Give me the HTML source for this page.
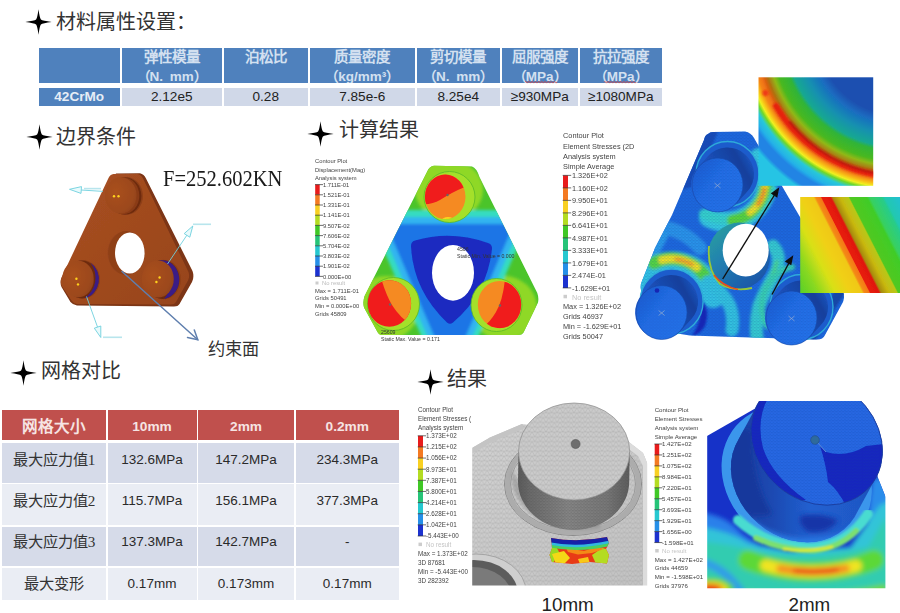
<!DOCTYPE html>
<html lang="zh-CN">
<head>
<meta charset="utf-8">
<title>slide</title>
<style>
html,body{margin:0;padding:0;background:#fff;}
html{width:900px;height:613px;overflow:hidden;}
body{width:900px;height:613px;position:relative;overflow:hidden;font-family:"Liberation Sans",sans-serif;color:#222;}
.abs{position:absolute;}
.h{position:absolute;font-family:"Liberation Serif",serif;font-weight:300;font-size:20px;line-height:24px;color:#333;white-space:nowrap;letter-spacing:0;}
.star{position:absolute;width:27px;height:26px;}
.c{position:absolute;box-sizing:border-box;text-align:center;white-space:nowrap;overflow:hidden;}
.t1h{background:#4f81bd;color:#d3e0f0;font-family:"Liberation Serif",serif;font-weight:bold;font-size:14.5px;line-height:18.5px;top:47.5px;height:35px;padding-top:0.5px;}
.t1h .s{font-family:"Liberation Sans",sans-serif;font-size:13.5px;}
.t1d{background:#d0d8e8;color:#222;font-size:13.6px;line-height:17.5px;top:88px;height:17.5px;}
.t2h{background:#c0504d;color:#f6e4e3;font-weight:bold;font-size:13.7px;line-height:34px;top:409.5px;height:30.5px;}
.t2c{color:#2a2a2a;font-size:13.5px;}
.r1{top:443px;height:39.5px;line-height:34px;background:#d6dbe9;}
.r2{top:484px;height:41px;line-height:34px;background:#eaedf4;}
.r3{top:526.5px;height:39.5px;line-height:30px;background:#d6dbe9;}
.r4{top:567.5px;height:32.5px;line-height:31px;background:#eaedf4;}
.k{font-family:"Liberation Serif",serif;font-weight:300;font-size:15.2px;color:#333;}
.lbl{position:absolute;font-size:19px;color:#222;white-space:nowrap;}
</style>
</head>
<body>
<!-- headings -->
<svg class="star" style="left:25px;top:9px" viewBox="-13.5 -13 27 26"><path d="M0,-12.7 Q1.1,-4.2 2.4,-2.4 Q4.2,-1.1 13.2,0 Q4.2,1.1 2.4,2.4 Q1.1,4.2 0,12.7 Q-1.1,4.2 -2.4,2.4 Q-4.2,1.1 -13.2,0 Q-4.2,-1.1 -2.4,-2.4 Q-1.1,-4.2 0,-12.7 Z" fill="#000"/></svg>
<div class="h" style="left:56px;top:10px">材料属性设置：</div>
<svg class="star" style="left:26px;top:124px" viewBox="-13.5 -13 27 26"><path d="M0,-12.7 Q1.1,-4.2 2.4,-2.4 Q4.2,-1.1 13.2,0 Q4.2,1.1 2.4,2.4 Q1.1,4.2 0,12.7 Q-1.1,4.2 -2.4,2.4 Q-4.2,1.1 -13.2,0 Q-4.2,-1.1 -2.4,-2.4 Q-1.1,-4.2 0,-12.7 Z" fill="#000"/></svg>
<div class="h" style="left:56px;top:125px">边界条件</div>
<svg class="star" style="left:307px;top:120.500px" viewBox="-13.5 -13 27 26"><path d="M0,-12.7 Q1.1,-4.2 2.4,-2.4 Q4.2,-1.1 13.2,0 Q4.2,1.1 2.4,2.4 Q1.1,4.2 0,12.7 Q-1.1,4.2 -2.4,2.4 Q-4.2,1.1 -13.2,0 Q-4.2,-1.1 -2.4,-2.4 Q-1.1,-4.2 0,-12.7 Z" fill="#000"/></svg>
<div class="h" style="left:339px;top:117.500px">计算结果</div>
<svg class="star" style="left:10px;top:359.500px" viewBox="-13.5 -13 27 26"><path d="M0,-12.7 Q1.1,-4.2 2.4,-2.4 Q4.2,-1.1 13.2,0 Q4.2,1.1 2.4,2.4 Q1.1,4.2 0,12.7 Q-1.1,4.2 -2.4,2.4 Q-4.2,1.1 -13.2,0 Q-4.2,-1.1 -2.4,-2.4 Q-1.1,-4.2 0,-12.7 Z" fill="#000"/></svg>
<div class="h" style="left:41px;top:358.500px">网格对比</div>
<svg class="star" style="left:416.500px;top:368.500px" viewBox="-13.5 -13 27 26"><path d="M0,-12.7 Q1.1,-4.2 2.4,-2.4 Q4.2,-1.1 13.2,0 Q4.2,1.1 2.4,2.4 Q1.1,4.2 0,12.7 Q-1.1,4.2 -2.4,2.4 Q-4.2,1.1 -13.2,0 Q-4.2,-1.1 -2.4,-2.4 Q-1.1,-4.2 0,-12.7 Z" fill="#000"/></svg>
<div class="h" style="left:447px;top:366.500px">结果</div>

<!-- table 1 -->
<div class="c t1h" style="left:38.500px;width:81.500px"></div>
<div class="c t1h" style="left:121.500px;width:100.500px">弹性模量<br><span class="s">（N.&ensp;mm）</span></div>
<div class="c t1h" style="left:223.500px;width:84.500px">泊松比</div>
<div class="c t1h" style="left:309.500px;width:105.500px">质量密度<br><span class="s">（kg/mm³）</span></div>
<div class="c t1h" style="left:416.500px;width:83.500px">剪切模量<br><span class="s">（N.&ensp;mm）</span></div>
<div class="c t1h" style="left:501.500px;width:76.500px">屈服强度<br><span class="s">（MPa）</span></div>
<div class="c t1h" style="left:579.500px;width:82.500px">抗拉强度<br><span class="s">（MPa）</span></div>
<div class="c t1d" style="left:38.500px;width:81.500px;background:#4f81bd;color:#e6edf6;font-weight:bold;">42CrMo</div>
<div class="c t1d" style="left:121.500px;width:100.500px">2.12e5</div>
<div class="c t1d" style="left:223.500px;width:84.500px">0.28</div>
<div class="c t1d" style="left:309.500px;width:105.500px">7.85e-6</div>
<div class="c t1d" style="left:416.500px;width:83.500px">8.25e4</div>
<div class="c t1d" style="left:501.500px;width:76.500px">≥930MPa</div>
<div class="c t1d" style="left:579.500px;width:82.500px">≥1080MPa</div>

<svg class="abs" style="left:0;top:0" width="900" height="613" viewBox="0 0 900 613"><path d="M525,82.2 q0.80,-1.80 1.60,0 q0.80,1.80 1.60,0 q0.80,-1.80 1.60,0 q0.80,1.80 1.60,0 q0.80,-1.80 1.60,0 q0.80,1.80 1.60,0 q0.80,-1.80 1.60,0 q0.80,1.80 1.60,0 q0.80,-1.80 1.60,0 q0.80,1.80 1.60,0 q0.80,-1.80 1.60,0 q0.80,1.80 1.60,0 q0.80,-1.80 1.60,0 q0.80,1.80 1.60,0 q0.80,-1.80 1.60,0 q0.80,1.80 1.60,0 q0.80,-1.80 1.60,0 q0.80,1.80 1.60,0 q0.80,-1.80 1.60,0 q0.80,1.80 1.60,0" fill="none" stroke="#e0403c" stroke-width="0.8"/><path d="M604,82.2 q0.80,-1.80 1.60,0 q0.80,1.80 1.60,0 q0.80,-1.80 1.60,0 q0.80,1.80 1.60,0 q0.80,-1.80 1.60,0 q0.80,1.80 1.60,0 q0.80,-1.80 1.60,0 q0.80,1.80 1.60,0 q0.80,-1.80 1.60,0 q0.80,1.80 1.60,0 q0.80,-1.80 1.60,0 q0.80,1.80 1.60,0 q0.80,-1.80 1.60,0 q0.80,1.80 1.60,0 q0.80,-1.80 1.60,0 q0.80,1.80 1.60,0 q0.80,-1.80 1.60,0 q0.80,1.80 1.60,0 q0.80,-1.80 1.60,0 q0.80,1.80 1.60,0" fill="none" stroke="#e0403c" stroke-width="0.8"/></svg>
<!-- table 2 -->
<div class="c t2h" style="left:2px;width:104px;font-family:'Liberation Serif',serif;font-size:15.5px;">网格大小</div>
<div class="c t2h" style="left:107.500px;width:89px">10mm</div>
<div class="c t2h" style="left:198px;width:96px">2mm</div>
<div class="c t2h" style="left:295.500px;width:103.500px">0.2mm</div>

<div class="c t2c r1 k" style="left:2px;width:104px">最大应力值1</div>
<div class="c t2c r1" style="left:107.500px;width:89px">132.6MPa</div>
<div class="c t2c r1" style="left:198px;width:96px">147.2MPa</div>
<div class="c t2c r1" style="left:295.500px;width:103.500px">234.3MPa</div>

<div class="c t2c r2 k" style="left:2px;width:104px">最大应力值2</div>
<div class="c t2c r2" style="left:107.500px;width:89px">115.7MPa</div>
<div class="c t2c r2" style="left:198px;width:96px">156.1MPa</div>
<div class="c t2c r2" style="left:295.500px;width:103.500px">377.3MPa</div>

<div class="c t2c r3 k" style="left:2px;width:104px">最大应力值3</div>
<div class="c t2c r3" style="left:107.500px;width:89px">137.3MPa</div>
<div class="c t2c r3" style="left:198px;width:96px">142.7MPa</div>
<div class="c t2c r3" style="left:295.500px;width:103.500px">-</div>

<div class="c t2c r4 k" style="left:2px;width:104px">最大变形</div>
<div class="c t2c r4" style="left:107.500px;width:89px">0.17mm</div>
<div class="c t2c r4" style="left:198px;width:96px">0.173mm</div>
<div class="c t2c r4" style="left:295.500px;width:103.500px">0.17mm</div>

<!-- IMG1: boundary condition plate -->
<svg class="abs" style="left:0;top:0" width="900" height="613" viewBox="0 0 900 613">
<defs>
<linearGradient id="g1face" x1="0" y1="0" x2="1" y2="1">
<stop offset="0" stop-color="#a85022"/><stop offset="0.5" stop-color="#a04a1e"/><stop offset="1" stop-color="#97441a"/>
</linearGradient>
<radialGradient id="g1boss" cx="0.35" cy="0.4" r="0.8">
<stop offset="0" stop-color="#a9501f"/><stop offset="0.7" stop-color="#9c481c"/><stop offset="1" stop-color="#8a3d17"/>
</radialGradient>
<filter id="b04"><feGaussianBlur stdDeviation="0.45"/></filter>
<filter id="b1"><feGaussianBlur stdDeviation="1"/></filter>
</defs>
<g filter="url(#b04)">
<!-- side/thickness (darker) -->
<path d="M116,173.500 L140,173.200 Q144,174 146,178.500 L192.500,271 Q194.500,277 192,282 L179.500,304 Q178,306.500 174,306.500 L77,305.500 Q73,305 70.500,302 L61.500,287 Q60,284 61,279 Z" fill="#7c3413"/>
<!-- front face -->
<path d="M113.500,174 L137.500,174 Q141,174.500 143,178.500 L188.500,272 Q190,276.500 188,280.500 L176,302 Q174.500,304.500 171,304.500 L77,304 Q73.500,303.500 71.500,300.500 L61.500,285.500 Q60,282 61.500,277.500 L108.500,178 Q110,174.500 113.500,174 Z" fill="url(#g1face)"/>
<!-- hole: wall then white -->
<ellipse cx="126.500" cy="253" rx="18.300" ry="22" fill="#8a3c16"/>
<ellipse cx="124.500" cy="253" rx="17" ry="21.500" fill="#93421a" opacity="0.6"/>
<ellipse cx="129.800" cy="253" rx="14.800" ry="20.500" fill="#fff"/>
<!-- top boss -->
<ellipse cx="126" cy="196" rx="17" ry="19" fill="#8e3f18"/>
<ellipse cx="125" cy="196" rx="16.500" ry="18.600" fill="#6e2c0f"/>
<ellipse cx="123.300" cy="195.800" rx="16" ry="18.400" fill="#8a3b15"/>
<ellipse cx="120.800" cy="195.500" rx="15.800" ry="18.200" fill="url(#g1boss)"/>
<!-- left boss -->
<ellipse cx="83" cy="279.500" rx="17" ry="19.300" fill="#8e3f18"/>
<ellipse cx="82" cy="279.500" rx="16.600" ry="18.900" fill="#6e2c0f"/>
<path d="M90.500,262.800 A17,19 0 0 1 84.500,298 A21,23 0 0 0 90.500,262.800Z" fill="#3b1c86"/>
<ellipse cx="78" cy="279" rx="15.800" ry="18.300" fill="url(#g1boss)"/>
<!-- right boss -->
<ellipse cx="163.500" cy="279.500" rx="17.500" ry="19.800" fill="#8e3f18"/>
<ellipse cx="162.500" cy="279.500" rx="17" ry="19.400" fill="#6e2c0f"/>
<path d="M159.500,260.300 A17.500,19.500 0 0 1 164,299 A19.500,24 0 0 0 159.500,260.300Z" fill="#3b1c86"/>
<ellipse cx="157.800" cy="279" rx="16" ry="18.600" fill="url(#g1boss)"/>
<!-- yellow dots -->
<g fill="#ffd21e"><circle cx="114" cy="196.300" r="1.200"/><circle cx="118.500" cy="196.300" r="1.200"/>
<circle cx="76.400" cy="278.800" r="1.200"/><circle cx="78" cy="284.400" r="1.200"/>
<circle cx="159.600" cy="277.500" r="1.200"/><circle cx="156.400" cy="282" r="1.200"/></g>
<!-- cyan arrows -->
<g stroke="#6fd0de" stroke-width="0.9" fill="#e8fafc" stroke-linejoin="round">
<path d="M103,191.400 L81,190" fill="none"/><path d="M81.500,186.600 L69.500,189.300 L81,193.400Z"/>
<path d="M167.500,264 L187,235" fill="none"/><path d="M184.200,233.600 L192.800,226 L189.800,237.200Z"/>
<path d="M86.500,296.500 L97.500,327" fill="none"/><path d="M94.300,328.200 L100.800,337.500 L100.800,326Z"/>
</g>
<g fill="#9adbe6" opacity="0.7"><rect x="84" y="187.800" width="17" height="1.600"/><rect x="193" y="223.500" width="18" height="1.600"/><rect x="103" y="336.500" width="19" height="1.600"/></g>
<!-- annotation arrow -->
<g stroke="#5f7fae" stroke-width="1.500" fill="none" stroke-linecap="round"><path d="M122,271.500 L197.500,339.500"/><path d="M187.500,337.500 L197.800,339.700 L194.300,330"/></g>
</g>
</svg>

<!-- IMG2: displacement contour -->
<svg class="abs" style="left:0;top:0" width="900" height="613" viewBox="0 0 900 613">
<defs>
<clipPath id="c2plate"><path d="M434,165.800 L472,166.600 Q476.500,168 479.300,176.700 L537.300,293 Q539,298 538,302.500 L523.500,332.500 Q522,335 518,335 L382,335 Q379,335 377.500,332 L364,307.500 Q362.500,302 364.600,296 L427,172 Q429.500,166 434,165.800 Z"/></clipPath>
<filter id="b2a"><feGaussianBlur stdDeviation="1.6"/></filter>
<filter id="b2b"><feGaussianBlur stdDeviation="0.5"/></filter>
<clipPath id="c2t"><ellipse cx="445.200" cy="196.800" rx="20.300" ry="22.300"/></clipPath>
<clipPath id="c2l"><ellipse cx="389.400" cy="303.500" rx="21.700" ry="23.200"/></clipPath>
<clipPath id="c2r"><ellipse cx="499.500" cy="304.600" rx="21.700" ry="23.600"/></clipPath>
</defs>
<g filter="url(#b2b)">
<g clip-path="url(#c2plate)">
<rect x="355" y="160" width="190" height="180" fill="#4cc42c"/>
<g filter="url(#b2a)">
<!-- corner lime -->
<ellipse cx="449" cy="190" rx="34" ry="30" fill="#8fd828"/>
<ellipse cx="386" cy="308" rx="33" ry="32" fill="#8fd828"/>
<ellipse cx="504" cy="308" rx="33" ry="32" fill="#8fd828"/>
<!-- cyan triangle -->
<path d="M366,210 L534,210 L470,356 L430,356 Z" fill="#34dcc0"/>
<path d="M376,217 L524,217 L465,354 L435,354 Z" fill="#30b4f0"/>
<path d="M386,224 L514,224 L459,352 L441,352 Z" fill="#1f74e6"/>
<!-- green re-cover near bosses -->
</g>
<path d="M415,240.500 Q451,230 488,243 Q492.500,244.500 492,249 Q487,294 453,322.500 Q450,325 447,322.500 Q413,290 411,246 Q411,241.500 415,240.500Z" fill="#1a2cc0" filter="url(#b2b)"/>
</g>
<!-- hole -->
<ellipse cx="453" cy="272.800" rx="21" ry="27.900" fill="#fff"/>
<!-- boss rings -->
<ellipse cx="449.500" cy="197" rx="25.500" ry="25.500" fill="#a4e02c" stroke="#58b828" stroke-width="0.8"/>
<ellipse cx="393.500" cy="304" rx="26" ry="26.500" fill="#a4e02c" stroke="#58b828" stroke-width="0.8"/>
<ellipse cx="496.500" cy="305" rx="25.500" ry="26.500" fill="#a4e02c" stroke="#58b828" stroke-width="0.8"/>
<!-- top boss face -->
<g clip-path="url(#c2t)"><rect x="420" y="170" width="55" height="55" fill="#f58a22"/>
<path d="M420,170 H475 V183 Q455,190 440,200 Q432,205 420,204Z" fill="#f01c1c"/>
<ellipse cx="448" cy="220" rx="6" ry="3" fill="#f8d820"/></g>
<!-- left boss face -->
<g clip-path="url(#c2l)"><rect x="365" y="278" width="50" height="52" fill="#f01c1c"/>
<path d="M381,278 Q386,295 392,305 Q400,318 412,325 L415,278Z" fill="#f58a22"/></g>
<!-- right boss face -->
<g clip-path="url(#c2r)"><rect x="475" y="278" width="50" height="54" fill="#f58a22"/>
<path d="M505,279 Q503,300 496,312 Q490,322 484,326 L525,332 L525,279Z" fill="#f01c1c"/></g>
<g fill="#666"><circle cx="447.500" cy="195" r="1.200"/><circle cx="390" cy="304.500" r="1.200"/><circle cx="500" cy="305.500" r="1.200"/></g>
</g>
<!-- legend 1 -->
<g font-family="Liberation Sans, sans-serif" font-size="5.800" fill="#444" filter="url(#b2b)">
<text x="315" y="163">Contour Plot</text><text x="315" y="171.500">Displacement(Mag)</text><text x="315" y="179.700">Analysis system</text>
<g><rect x="315.200" y="184.500" width="4.500" height="10.300" fill="#e81c1c"/><rect x="315.200" y="194.700" width="4.500" height="10.300" fill="#f47a20"/><rect x="315.200" y="204.900" width="4.500" height="10.300" fill="#f8d020"/><rect x="315.200" y="215.100" width="4.500" height="10.300" fill="#b4dc20"/><rect x="315.200" y="225.300" width="4.500" height="10.300" fill="#40c828"/><rect x="315.200" y="235.500" width="4.500" height="10.300" fill="#28c478"/><rect x="315.200" y="245.700" width="4.500" height="10.300" fill="#28c8d0"/><rect x="315.200" y="255.900" width="4.500" height="10.300" fill="#2890e8"/><rect x="315.200" y="266.100" width="4.500" height="10.300" fill="#1c30d0"/></g>
<g stroke="#333" stroke-width="0.700"><path d="M315,184.600h8M315,194.800h8M315,205h8M315,215.200h8M315,225.400h8M315,235.600h8M315,245.800h8M315,256h8M315,266.200h8M315,276.400h8"/></g>
<text x="323" y="186.800">1.711E-01</text><text x="323" y="197">1.521E-01</text><text x="323" y="207.200">1.331E-01</text><text x="323" y="217.400">1.141E-01</text><text x="323" y="227.600">9.507E-02</text><text x="323" y="237.800">7.606E-02</text><text x="323" y="248">5.704E-02</text><text x="323" y="258.200">3.803E-02</text><text x="323" y="268.400">1.901E-02</text><text x="323" y="278.600">0.000E+00</text>
<text x="322" y="285.300" fill="#bbb">No result</text><rect x="315.500" y="281.500" width="3" height="3" fill="#ccc"/>
<text x="315" y="292.500">Max = 1.711E-01</text><text x="315" y="300">Grids 50491</text><text x="315" y="308">Min = 0.000E+00</text><text x="315" y="316">Grids 45809</text>
<text x="457" y="250.500" font-size="5.200" fill="#333">4506</text><text x="457" y="257.500" font-size="5.200" fill="#333">Static Min. Value = 0.000</text>
<text x="381" y="333.500" font-size="5.200" fill="#333">25609</text><text x="381" y="340.500" font-size="5.200" fill="#333">Static Max. Value = 0.171</text>
</g>
</svg>

<!-- IMG3: stress contour -->
<svg class="abs" style="left:0;top:0" width="900" height="613" viewBox="0 0 900 613">
<defs>
<clipPath id="c3plate"><path d="M708,134 Q710,132 713,132 L745,131.500 Q751,132.500 754,138 L843,291 Q845,297 843,302 L825,335 Q823,339.500 817,339.500 L690,335.500 L655,330 L641,290 Q640,285 642,281 L655,248 L672,215 L704,140 Q705,135 708,134Z"/></clipPath>
<filter id="b3a"><feGaussianBlur stdDeviation="1.8"/></filter>
<filter id="b3b"><feGaussianBlur stdDeviation="1.1"/></filter>
<filter id="b3c"><feGaussianBlur stdDeviation="0.5"/></filter>
<pattern id="mesh3" width="3.400" height="3" patternUnits="userSpaceOnUse"><path d="M0,0H3.400M0,0L1.700,3L3.400,0" stroke="#123c96" stroke-width="0.300" fill="none"/></pattern>
<linearGradient id="g3side" gradientUnits="userSpaceOnUse" x1="-20" y1="10" x2="38" y2="-22"><stop offset="0" stop-color="#2060d4"/><stop offset="0.45" stop-color="#1a4db4"/><stop offset="0.8" stop-color="#163f9c"/><stop offset="1" stop-color="#1c58c4"/></linearGradient>
<linearGradient id="g3face" gradientUnits="userSpaceOnUse" x1="-24" y1="-14" x2="20" y2="20"><stop offset="0" stop-color="#1c5ed4"/><stop offset="0.4" stop-color="#216ee6"/><stop offset="1" stop-color="#2272ea"/></linearGradient>
<linearGradient id="g3wall" x1="0" y1="0" x2="0.8" y2="1"><stop offset="0" stop-color="#2aa69a"/><stop offset="0.45" stop-color="#2280b0"/><stop offset="1" stop-color="#1a52a8"/></linearGradient>
<g id="boss3">
<ellipse cx="10" cy="-11" rx="32" ry="33" fill="#1b5ccc"/>
<ellipse cx="10" cy="-11" rx="31.500" ry="32.500" fill="none" stroke="#36c4dc" stroke-width="1.400" opacity="0.75"/>
<path d="M10,-11 L0,0" stroke="url(#g3side)" stroke-width="53" stroke-linecap="round" fill="none"/>
<ellipse cx="0" cy="0" rx="25.500" ry="27" fill="url(#g3face)" stroke="#1848a8" stroke-width="0.600"/>
<ellipse cx="0" cy="0" rx="25.500" ry="27" fill="url(#mesh3)" opacity="0.400"/>
<path d="M-3,-2l6,5M3,-2l-6,5" stroke="#8aa4d0" stroke-width="0.800"/>
</g>
<radialGradient id="g3in1" gradientUnits="userSpaceOnUse" cx="898" cy="35" r="200">
<stop offset="0.40" stop-color="#1a50b0"/><stop offset="0.44" stop-color="#1a6cc0"/><stop offset="0.50" stop-color="#1590b0"/><stop offset="0.56" stop-color="#18a890"/><stop offset="0.58" stop-color="#30b438"/><stop offset="0.63" stop-color="#48b820"/><stop offset="0.655" stop-color="#90b818"/><stop offset="0.685" stop-color="#b07010"/><stop offset="0.70" stop-color="#d8600f"/><stop offset="0.715" stop-color="#f07416"/><stop offset="0.73" stop-color="#f48418"/><stop offset="0.75" stop-color="#f8c018"/><stop offset="0.765" stop-color="#f0f020"/><stop offset="0.78" stop-color="#70d828"/><stop offset="0.80" stop-color="#28c8d8"/><stop offset="0.83" stop-color="#24b0e8"/><stop offset="0.85" stop-color="#2084e4"/><stop offset="0.89" stop-color="#2084e4"/><stop offset="0.91" stop-color="#26c4e4"/><stop offset="1" stop-color="#26c4e4"/>
</radialGradient>
<linearGradient id="g3in2" gradientUnits="userSpaceOnUse" x1="766.500" y1="227.100" x2="884" y2="167.100">
<stop offset="0" stop-color="#58d028"/><stop offset="0.12" stop-color="#88d820"/><stop offset="0.24" stop-color="#d8e018"/><stop offset="0.34" stop-color="#f0d018"/><stop offset="0.42" stop-color="#f0c818"/><stop offset="0.435" stop-color="#f48a18"/><stop offset="0.468" stop-color="#f47818"/><stop offset="0.475" stop-color="#e81c10"/><stop offset="0.535" stop-color="#e01810"/><stop offset="0.55" stop-color="#a88a10"/><stop offset="0.60" stop-color="#c8b810"/><stop offset="0.655" stop-color="#b8c818"/><stop offset="0.665" stop-color="#50c820"/><stop offset="0.78" stop-color="#40cc28"/><stop offset="0.80" stop-color="#38d060"/><stop offset="0.88" stop-color="#28cc88"/><stop offset="0.90" stop-color="#20c8b0"/><stop offset="1" stop-color="#20c0d0"/>
</linearGradient>
</defs>
<g filter="url(#b3c)">
<!-- plate -->
<g clip-path="url(#c3plate)">
<rect x="630" y="125" width="230" height="225" fill="#1d68de"/>
<path d="M700,128 L718,132 L694,186 L682,190Z" fill="#174cb8" filter="url(#b3b)"/>
<path d="M812,345 L850,285 L838,285 L808,338Z" fill="#1446a8" filter="url(#b3b)"/>
<g filter="url(#b3a)" fill="none" stroke-linecap="round">
<!-- light blue patches -->
<path d="M666,228 Q686,232 700,248" stroke="#2c94ea" stroke-width="14"/>
<path d="M650,262 L664,236" stroke="#2a9cea" stroke-width="8"/>
<!-- top boss hot zone -->
<path d="M759,158 A40,40 0 0 1 709,217.500" stroke="#34cce0" stroke-width="20"/>
<path d="M704,214 Q722,224 748,218 Q766,208 772,190" stroke="#36d4cc" stroke-width="10"/>
<path d="M764.500,171 A40,40 0 0 1 733,220.500" stroke="#58d838" stroke-width="12"/>
<path d="M765.500,181 A39.500,39.500 0 0 1 750,212.500" stroke="#f4e420" stroke-width="6.500"/>
<path d="M764.500,189 A39.500,39.500 0 0 1 758,204.500" stroke="#f48a20" stroke-width="3.500"/>
<!-- left boss hot zone -->
<path d="M640,280 A41,41 0 0 1 713,296" stroke="#32c4e4" stroke-width="24"/>
<path d="M654,263 A41,41 0 0 1 704,274.500" stroke="#54d840" stroke-width="13"/>
<path d="M662,260 A41,41 0 0 1 697,267.500" stroke="#f4e420" stroke-width="7.500"/>
<path d="M676,259.200 A41,41 0 0 1 692,264.500" stroke="#f49a20" stroke-width="3.500"/>
<!-- bands below the hole -->
<path d="M708,282 Q722,290 730,306 Q734,318 732,330" stroke="#32c4e0" stroke-width="13"/>
<path d="M773,246 Q782,256 776,272 Q764,292 759,306 Q755,322 757,338" stroke="#34ccd0" stroke-width="13"/><path d="M777,262 Q772,280 762,296" stroke="#48d890" stroke-width="4"/>
<path d="M767.400,326 A40,40 0 0 1 792,267" stroke="#38d0b0" stroke-width="6"/>
</g>
<rect x="630" y="125" width="230" height="225" fill="url(#mesh3)" opacity="0.500"/>
<!-- dark blue blob near left boss -->
<path d="M703,302 Q710,312 705,326 Q700,334 692,336 Q702,322 700,304Z" fill="#1226b4" filter="url(#b3b)"/>
</g>
<!-- hole -->
<ellipse cx="739" cy="255.800" rx="31" ry="33.200" fill="url(#g3wall)"/>
<path d="M709,246 Q707,270 720,284 Q734,292 752,288" fill="none" stroke="#98c838" stroke-width="1.800" filter="url(#b3c)"/>
<path d="M714,275 Q722,286 738,289.500" fill="none" stroke="#f04c18" stroke-width="1.500"/>
<ellipse cx="745.700" cy="250.200" rx="23" ry="26.400" fill="#fff"/>
<!-- bosses -->
<use href="#boss3" x="717.500" y="185"/>
<use href="#boss3" x="661.600" y="312.500"/>
<circle cx="657" cy="290.500" r="2.300" fill="#1226b4"/>
<use href="#boss3" x="791.500" y="318"/>
<!-- arrows -->
<g stroke="#111" stroke-width="1.400" fill="#111"><path d="M722.700,279 L776,192.500"/><path d="M778.300,188.800 L772,193.500 L776.800,196.500Z"/><path d="M772,294.500 L790,261"/><path d="M792.300,256.800 L786,261.500 L790.800,264.200Z"/></g>
<!-- insets -->
<rect x="758.500" y="77.300" width="114.700" height="108.500" fill="url(#g3in1)"/>
<clipPath id="c3in1"><rect x="758.500" y="77.300" width="114.700" height="108.500"/></clipPath>
<g clip-path="url(#c3in1)" fill="none" stroke-linecap="round"><g filter="url(#b3b)"><path d="M776,106 A141.500,141.500 0 0 0 880,175.300" stroke="#e6200f" stroke-width="6"/><path d="M790,122 A140,140 0 0 0 880,173.800" stroke="#b4160a" stroke-width="2.200"/><circle cx="765.500" cy="93" r="3" fill="#ee3a12" stroke="none"/></g></g>
<rect x="800.200" y="197" width="100" height="96" fill="url(#g3in2)"/>
</g>
</svg>

<!-- IMG4: 10mm mesh gray -->
<svg class="abs" style="left:0;top:0" width="900" height="613" viewBox="0 0 900 613">
<defs>
<clipPath id="c4"><rect x="472.200" y="402" width="175" height="183.500"/></clipPath>
<pattern id="mesh4" width="5.600" height="4.800" patternUnits="userSpaceOnUse"><path d="M0,0H5.600M0,0L2.800,4.800L5.600,0M0,4.800H5.600" stroke="#a2a2a2" stroke-width="0.350" fill="none"/></pattern>
<pattern id="mesh4b" width="3.200" height="3" patternUnits="userSpaceOnUse"><path d="M0,0H3.200M0,0L1.600,3L3.200,0" stroke="#4a4a4a" stroke-width="0.350" fill="none"/></pattern>
<linearGradient id="g4side" x1="0" y1="0" x2="1" y2="0"><stop offset="0" stop-color="#5a5a5a"/><stop offset="0.10" stop-color="#6a6a6a"/><stop offset="0.45" stop-color="#868686"/><stop offset="0.8" stop-color="#787878"/><stop offset="1" stop-color="#5c5c5c"/></linearGradient>
<linearGradient id="g4plate" x1="0" y1="0" x2="1" y2="1"><stop offset="0" stop-color="#d2d2d2"/><stop offset="1" stop-color="#c2c2c2"/></linearGradient>
<filter id="b4a"><feGaussianBlur stdDeviation="0.55"/></filter>
<filter id="b4b"><feGaussianBlur stdDeviation="1.5"/></filter>
<clipPath id="c4patch"><path d="M551,538 Q578,543 607,537 L609,543 L606,549 L609,555 L607,563.500 L590,562 L572,564 L552,562 L549.500,555 L552,548Z"/></clipPath>
</defs>
<g clip-path="url(#c4)" filter="url(#b4a)">
<!-- plate -->
<path d="M472,448 L490,437.500 L522,424 L625,439 L643,453 L647.500,464 L647.500,586 L472,586Z" fill="url(#g4plate)"/>
<path d="M472,448 L490,437.500 L522,424 L625,439 L643,453 L647.500,464 L647.500,586 L472,586Z" fill="url(#mesh4)"/>
<!-- bevels -->
<path d="M472,448 L490,437.500 L522,424 L524,428.500 L491,442.500 L472,453.500Z" fill="#c4c4c4"/>
<path d="M625,439 L643,453 L647.500,464 L647.500,586 L643,586 L643,466 L638,456 L622,444Z" fill="#dcdcdc"/>
<!-- fillet ring -->
<ellipse cx="573" cy="484" rx="68.500" ry="51.500" fill="none" stroke="#8a8a8a" stroke-width="1"/>
<ellipse cx="573" cy="484" rx="65.500" ry="48.500" fill="none" stroke="#acacac" stroke-width="5"/>
<ellipse cx="573" cy="484" rx="62.500" ry="45.500" fill="none" stroke="#969696" stroke-width="0.900"/>
<path d="M512,470 Q508,500 540,520 Q570,534 600,528 L600,520 Q560,520 530,500Z" fill="#8c8c8c" opacity="0.550" filter="url(#b4b)"/>
<!-- cylinder side -->
<path d="M518.500,451.500 L518,481.500 A55.600,48.500 0 0 0 629.200,481.500 L629.700,451.500Z" fill="url(#g4side)"/>
<path d="M518.500,451.500 L518,481.500 A55.600,48.500 0 0 0 629.200,481.500 L629.700,451.500Z" fill="url(#mesh4b)" opacity="0.550"/>
<!-- top face -->
<ellipse cx="574.100" cy="451.500" rx="55.600" ry="48.500" fill="#cbcbcb" stroke="#8a8a8a" stroke-width="0.700"/>
<ellipse cx="574.100" cy="451.500" rx="55.600" ry="48.500" fill="url(#mesh4)"/>
<circle cx="575.600" cy="444" r="4.500" fill="#6e6e6e" stroke="#555" stroke-width="0.600"/>
<!-- second boss bottom-left -->
<ellipse cx="476" cy="592" rx="50" ry="38" fill="#cfcfcf" stroke="#9a9a9a" stroke-width="0.800"/>
<ellipse cx="474" cy="594" rx="44" ry="34" fill="#5c5c5c"/>
<ellipse cx="472" cy="597" rx="40" ry="30" fill="#7a7a7a"/>
<!-- colour patch -->
<g clip-path="url(#c4patch)">
<rect x="548" y="535" width="63" height="30" fill="#e83a18"/>
<g filter="url(#b4a)">
<path d="M548,549 L556,546 L560,554 L552,564 L548,564Z" fill="#9cd820"/>
<path d="M552,554 L564,551 L570,558 L564,564 L556,564Z" fill="#f4d818"/>
<path d="M592,555 L602,548 L610,550 L610,564 L596,564Z" fill="#b4dc20"/>
<path d="M566,548 L584,551 L596,547 L604,549 L592,553 L578,554.500 L568,552Z" fill="#f48a18"/>
<path d="M578,559 L588,557 L590,564 L580,564Z" fill="#f8c818"/>
<path d="M548,543 Q578,550 610,542 L610,546 Q578,553.500 548,547Z" fill="#48d060"/>
<path d="M548,541 Q578,547.500 610,539.500 L610,543 Q578,550.500 548,544.500Z" fill="#30b8e0"/>
<path d="M548,534 L610,534 L610,540.500 Q578,548 548,542Z" fill="#1420a8"/>
</g>
</g>
</g>
</svg>

<!-- IMG5: 2mm stress -->
<svg class="abs" style="left:0;top:0" width="900" height="613" viewBox="0 0 900 613">
<defs>
<clipPath id="c5"><rect x="707.200" y="401" width="178.200" height="187.300"/></clipPath>
<clipPath id="c5plate"><path d="M707,436 L763,404 L860,404 L878,478 L886,498 L886,589 L707,589Z"/></clipPath>
<clipPath id="c5face"><ellipse cx="815.600" cy="441" rx="64" ry="47"/></clipPath>
<clipPath id="c5side"><path d="M751.600,441 L740,494 A70,48 0 0 0 880,494 L879.600,441Z"/></clipPath>
<filter id="b5a"><feGaussianBlur stdDeviation="2.6"/></filter>
<filter id="b5b"><feGaussianBlur stdDeviation="1.2"/></filter>
<filter id="b5c"><feGaussianBlur stdDeviation="0.55"/></filter>
<linearGradient id="g5side" gradientUnits="userSpaceOnUse" x1="742" y1="0" x2="880" y2="0"><stop offset="0" stop-color="#1a3ea4"/><stop offset="0.2" stop-color="#1c48b0"/><stop offset="0.5" stop-color="#2160d0"/><stop offset="0.85" stop-color="#1f58c6"/><stop offset="1" stop-color="#1a46b0"/></linearGradient>
</defs>
<g clip-path="url(#c5)" filter="url(#b5c)">
<g clip-path="url(#c5plate)">
<rect x="700" y="395" width="190" height="200" fill="#1630c8"/>
<g filter="url(#b5a)" fill="none">
<!-- lower field: light blue -> cyan -> teal -->
<g stroke-linecap="round">
<path d="M700,512 Q728,516 742,534 L770,552 L750,600 L700,600Z" fill="#2a80ea" stroke="none"/>
<path d="M872,478 L892,478 L892,520 L866,530Z" fill="#2a8cea" stroke="none"/>
<path d="M700,527 Q730,531 748,543 L790,551 L850,547 L880,505 L892,500 L892,600 L700,600Z" fill="#30c4d8" stroke="none"/>
<path d="M700,541 Q735,545 756,551 Q812,561 868,547 L886,516 L892,600 L700,600Z" fill="#32ccb0" stroke="none"/>
<path d="M740,590 Q812,600 886,584 L886,600 L740,600Z" fill="#70d838" stroke="none"/>
<path d="M748,560 A116,74 0 0 0 874,560" stroke="#5cd838" stroke-width="20"/>
<path d="M766,565.500 A116,74 0 0 0 856,566" stroke="#f0e420" stroke-width="12"/>
<path d="M780,568.800 A116,74 0 0 0 846,568.500" stroke="#f49020" stroke-width="7.500"/>
<path d="M795,570.600 A116,74 0 0 0 837,569.800" stroke="#e8201c" stroke-width="4"/>
<!-- valley + second hotspot bottom-left -->
<path d="M700,562 Q726,566 746,600" stroke="#309ce8" stroke-width="8"/>
<ellipse cx="712" cy="589" rx="22" ry="11" fill="#58d838" stroke="none"/>
<ellipse cx="711" cy="589" rx="17" ry="7.500" fill="#f4d820" stroke="none"/>
<ellipse cx="710" cy="589" rx="12" ry="4.500" fill="#ec3018" stroke="none"/>
</g>
</g>
<!-- ring -->
<ellipse cx="796.700" cy="478" rx="80" ry="68" transform="rotate(40.5 796.700 478)" fill="#3a96ec"/>
<g filter="url(#b5b)" fill="none" stroke-linecap="round">
<path d="M738,520 Q766,546 812,548 Q848,545 868,514" stroke="#48dcd0" stroke-width="10"/>
<path d="M756,538 Q784,551 814,550.500 Q840,547.500 856,531" stroke="#7ce070" stroke-width="6"/>
<path d="M784,549 Q806,552.500 832,547" stroke="#d8e838" stroke-width="3"/>
</g>
</g>
<!-- cylinder side -->
<clipPath id="c5side2"><path d="M758.0,523.3 L751.4,517.0 L745.5,510.0 L740.6,502.5 L736.6,494.5 L733.6,486.3 L731.7,477.9 L730.9,469.5 L731.2,461.3 L732.7,453.3 L735.3,445.8 L738.9,438.8 L758.9,401.8 L763.5,395.5 L769.0,390.0 L775.3,385.4 L782.3,381.7 L790.0,379.0 L798.0,377.3 L806.4,376.8 L815.0,377.4 L823.6,379.0 L832.1,381.7 L840.3,385.5 L848.1,390.1 L855.4,395.7 L862.0,402.0 L867.9,409.0 L872.8,416.5 L876.8,424.5 L879.8,432.7 L881.7,441.1 L882.5,449.5 L882.2,457.7 L880.7,465.7 L878.1,473.2 L874.5,480.2 L854.5,517.2 L849.9,523.5 L844.4,529.0 L838.1,533.6 L831.1,537.3 L823.4,540.0 L815.4,541.7 L807.0,542.2 L798.4,541.6 L789.8,540.0 L781.3,537.3 L773.1,533.5 L765.3,528.9Z"/></clipPath>
<g clip-path="url(#c5side2)">
<rect x="720" y="395" width="170" height="160" fill="url(#g5side)"/>
<g filter="url(#b5a)">
<path d="M752,520 Q790,548 840,534 Q860,524 872,500 L880,540 L760,560Z" fill="#2a7ae4"/>
<path d="M800,516 Q820,512 838,520 Q830,534 808,532 Q798,526 800,516Z" fill="#1834a8"/>
<path d="M722,430 L752,430 Q750,480 772,514 Q750,520 734,506Z" fill="#18389c"/>
</g>
</g>
<!-- top face -->
<clipPath id="c5face2"><ellipse cx="816.700" cy="441" rx="70" ry="59.600" transform="rotate(40.5 816.700 441)"/></clipPath>
<g clip-path="url(#c5face2)">
<rect x="740" y="375" width="150" height="140" fill="#2668e4"/>
<path d="M820,446 L826,452 Q846,458 866,446 L884,444 L884,480 Q870,500 846,506 Q838,490 828,482 Q826,464 820,446Z" fill="#1426c0" filter="url(#b5c)"/>
<path d="M768,398 Q756,420 763,448 Q772,476 806,500 L770,504 L744,470 L744,398Z" fill="#1426c0" filter="url(#b5c)"/>
<rect x="740" y="375" width="150" height="140" fill="url(#mesh3)" opacity="0.450"/>
<path d="M817,442 L826,452" stroke="#5a8ad8" stroke-width="1"/>
</g>
<ellipse cx="816.700" cy="441" rx="70" ry="59.600" transform="rotate(40.5 816.700 441)" fill="none" stroke="#1a3a9a" stroke-width="0.800"/>
<circle cx="815" cy="440" r="4.300" fill="#2f6a9c" stroke="#244e84" stroke-width="0.600"/>
</g>
</svg>

<!-- LEGENDS -->
<svg class="abs" style="left:0;top:0" width="900" height="613" viewBox="0 0 900 613">
<defs><filter id="lb"><feGaussianBlur stdDeviation="0.4"/></filter></defs>
<g font-family="Liberation Sans, sans-serif" font-size="7.35" fill="#444" filter="url(#lb)">
<text x="563" y="138.4">Contour Plot</text>
<text x="563" y="148.6">Element Stresses (2D</text>
<text x="563" y="158.8">Analysis system</text>
<text x="563" y="169.0">Simple Average</text>
<rect x="563" y="175.40" width="5" height="12.60" fill="#e81c1c"/>
<rect x="563" y="187.90" width="5" height="12.60" fill="#f47a20"/>
<rect x="563" y="200.40" width="5" height="12.60" fill="#f8d020"/>
<rect x="563" y="212.90" width="5" height="12.60" fill="#b4dc20"/>
<rect x="563" y="225.40" width="5" height="12.60" fill="#40c828"/>
<rect x="563" y="237.90" width="5" height="12.60" fill="#28c478"/>
<rect x="563" y="250.40" width="5" height="12.60" fill="#28c8d0"/>
<rect x="563" y="262.90" width="5" height="12.60" fill="#2890e8"/>
<rect x="563" y="275.40" width="5" height="12.60" fill="#1c30d0"/>
<path d="M562.7,175.40h8.5M562.7,187.90h8.5M562.7,200.40h8.5M562.7,212.90h8.5M562.7,225.40h8.5M562.7,237.90h8.5M562.7,250.40h8.5M562.7,262.90h8.5M562.7,275.40h8.5M562.7,287.90h8.5" stroke="#333" stroke-width="0.7" fill="none"/>
<text x="572" y="178.1">1.326E+02</text>
<text x="572" y="190.6">1.160E+02</text>
<text x="572" y="203.1">9.950E+01</text>
<text x="572" y="215.6">8.296E+01</text>
<text x="572" y="228.1">6.641E+01</text>
<text x="572" y="240.6">4.987E+01</text>
<text x="572" y="253.1">3.333E+01</text>
<text x="572" y="265.6">1.679E+01</text>
<text x="572" y="278.1">2.474E-01</text>
<text x="572" y="290.6">-1.629E+01</text>
<rect x="563.5" y="294.8" width="3.5" height="3.5" fill="#ccc"/><text x="572" y="299.5" fill="#c4c4c4">No result</text>
<text x="563" y="309.2">Max = 1.326E+02</text>
<text x="563" y="319.3">Grids 46937</text>
<text x="563" y="329.4">Min = -1.629E+01</text>
<text x="563" y="339.2">Grids 50047</text>
</g>
<g font-family="Liberation Sans, sans-serif" font-size="6.3" fill="#444" filter="url(#lb)">
<text x="418" y="412.1">Contour Plot</text>
<text x="418" y="421.1">Element Stresses (</text>
<text x="418" y="430.1">Analysis system</text>
<rect x="418" y="435.80" width="5" height="11.23" fill="#e81c1c"/>
<rect x="418" y="446.93" width="5" height="11.23" fill="#f47a20"/>
<rect x="418" y="458.06" width="5" height="11.23" fill="#f8d020"/>
<rect x="418" y="469.19" width="5" height="11.23" fill="#b4dc20"/>
<rect x="418" y="480.32" width="5" height="11.23" fill="#40c828"/>
<rect x="418" y="491.45" width="5" height="11.23" fill="#28c478"/>
<rect x="418" y="502.58" width="5" height="11.23" fill="#28c8d0"/>
<rect x="418" y="513.71" width="5" height="11.23" fill="#2890e8"/>
<rect x="418" y="524.84" width="5" height="11.23" fill="#1c30d0"/>
<path d="M417.7,435.80h8.5M417.7,446.93h8.5M417.7,458.06h8.5M417.7,469.19h8.5M417.7,480.32h8.5M417.7,491.45h8.5M417.7,502.58h8.5M417.7,513.71h8.5M417.7,524.84h8.5M417.7,535.97h8.5" stroke="#333" stroke-width="0.7" fill="none"/>
<text x="426" y="438.2">1.373E+02</text>
<text x="426" y="449.3">1.215E+02</text>
<text x="426" y="460.4">1.056E+02</text>
<text x="426" y="471.6">8.973E+01</text>
<text x="426" y="482.7">7.387E+01</text>
<text x="426" y="493.8">5.800E+01</text>
<text x="426" y="505.0">4.214E+01</text>
<text x="426" y="516.1">2.628E+01</text>
<text x="426" y="527.2">1.042E+01</text>
<text x="426" y="538.3">-5.443E+00</text>
<rect x="418.5" y="542.6" width="3.5" height="3.5" fill="#ccc"/><text x="426" y="547.0" fill="#c4c4c4">No result</text>
<text x="418" y="555.8">Max = 1.373E+02</text>
<text x="418" y="564.6">3D 87681</text>
<text x="418" y="573.8">Min = -5.443E+00</text>
<text x="418" y="582.9">3D 282392</text>
</g>
<g font-family="Liberation Sans, sans-serif" font-size="6.1" fill="#444" filter="url(#lb)">
<text x="654.7" y="412.1">Contour Plot</text>
<text x="654.7" y="421.1">Element Stresses</text>
<text x="654.7" y="430.1">Analysis system</text>
<text x="654.7" y="439.1">Simple Average</text>
<rect x="654.7" y="444.00" width="4.5" height="11.05" fill="#e81c1c"/>
<rect x="654.7" y="454.95" width="4.5" height="11.05" fill="#f47a20"/>
<rect x="654.7" y="465.90" width="4.5" height="11.05" fill="#f8d020"/>
<rect x="654.7" y="476.85" width="4.5" height="11.05" fill="#b4dc20"/>
<rect x="654.7" y="487.80" width="4.5" height="11.05" fill="#40c828"/>
<rect x="654.7" y="498.75" width="4.5" height="11.05" fill="#28c478"/>
<rect x="654.7" y="509.70" width="4.5" height="11.05" fill="#28c8d0"/>
<rect x="654.7" y="520.65" width="4.5" height="11.05" fill="#2890e8"/>
<rect x="654.7" y="531.60" width="4.5" height="11.05" fill="#1c30d0"/>
<path d="M654.4000000000001,444.00h8.0M654.4000000000001,454.95h8.0M654.4000000000001,465.90h8.0M654.4000000000001,476.85h8.0M654.4000000000001,487.80h8.0M654.4000000000001,498.75h8.0M654.4000000000001,509.70h8.0M654.4000000000001,520.65h8.0M654.4000000000001,531.60h8.0M654.4000000000001,542.55h8.0" stroke="#333" stroke-width="0.7" fill="none"/>
<text x="662" y="446.4">1.427E+02</text>
<text x="662" y="457.3">1.251E+02</text>
<text x="662" y="468.3">1.075E+02</text>
<text x="662" y="479.2">8.984E+01</text>
<text x="662" y="490.2">7.220E+01</text>
<text x="662" y="501.1">5.457E+01</text>
<text x="662" y="512.1">3.693E+01</text>
<text x="662" y="523.0">1.929E+01</text>
<text x="662" y="534.0">1.656E+00</text>
<text x="662" y="544.9">-1.598E+01</text>
<rect x="655.2" y="549" width="3.5" height="3.5" fill="#ccc"/><text x="662" y="553.4" fill="#c4c4c4">No result</text>
<text x="654.7" y="561.7">Max = 1.427E+02</text>
<text x="654.7" y="570.4">Grids 44659</text>
<text x="654.7" y="579.4">Min = -1.598E+01</text>
<text x="654.7" y="587.8">Grids 37976</text>
</g>
</svg>
<!-- labels -->
<div class="lbl" style="left:162.800px;top:166px;font-family:'Liberation Serif',serif;font-size:23px;line-height:26px;color:#1a1a1a;transform:scaleX(0.893);transform-origin:0 0">F=252.602KN</div>
<div class="lbl" style="left:207.500px;top:337px;font-size:17.200px;line-height:24px;color:#333">约束面</div>
<div class="lbl" style="left:541.500px;top:596px;font-size:18.800px;line-height:17px">10mm</div>
<div class="lbl" style="left:788.500px;top:596px;font-size:18.800px;line-height:17px">2mm</div>

</body>
</html>
